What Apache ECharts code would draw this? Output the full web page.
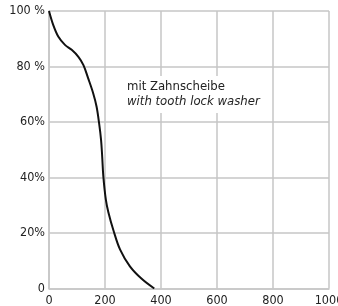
<!DOCTYPE html>
<html lang="de">
  <head>
    <meta charset="UTF-8" />
    <title>Zahnscheibe</title>
    <script src="https://cdn.jsdelivr.net/npm/echarts@6/dist/echarts.min.js"></script>
    <style>
      html, body { margin: 0; padding: 0; background: #fff; }
      #box { width: 338px; height: 306px; }
    </style>
  </head>
  <body>
    <div id="box"></div>
    <script>
      // curve (x, percent)
      const xs = [0, 15, 33, 57, 81, 105, 123, 140, 158, 170, 179, 186, 190, 194, 203, 212, 230, 254, 289, 331, 376];
      const ys = [100, 95, 90.8, 87.8, 86, 83.5, 80.5, 75.7, 70.3, 65.5, 59.5, 53.5, 47.5, 40.5, 32, 27.5, 21, 14, 8, 3.5, 0];
      const yLabels = { 0: "0", 20: "20%", 40: "40%", 60: "60%", 80: "80 %", 100: "100 %" };
      const noteDe = "mit Zahnscheibe";
      const noteEn = "with tooth lock washer";

      const font = "'Liberation Sans Narrow', 'DejaVu Sans Condensed', sans-serif";
      const gridColor = "#c6c6c6";

      var myChart = echarts.init(document.getElementById("box"));
      var option = {
        animation: false,
        grid: { left: 49, top: 11, right: 9, bottom: 17.5, containLabel: false, outerBoundsMode: "none" },
        xAxis: {
          type: "value",
          min: 0,
          max: 1000,
          interval: 200,
          axisLine: { show: true, lineStyle: { color: gridColor, width: 1.5 } },
          axisTick: { show: false },
          splitLine: { show: true, lineStyle: { color: gridColor, width: 1.5 } },
          axisLabel: { color: "#222", fontFamily: font, fontSize: 12.5, margin: 6, formatter: (v) => String(v) },
        },
        yAxis: {
          type: "value",
          min: 0,
          max: 100,
          interval: 20,
          axisLine: { show: true, lineStyle: { color: gridColor, width: 1.5 } },
          axisTick: { show: false },
          splitLine: { show: true, lineStyle: { color: gridColor, width: 1.5 } },
          axisLabel: {
            color: "#222",
            fontFamily: font,
            fontSize: 12.5,
            margin: 4,
            formatter: (v) => yLabels[v],
          },
        },
        graphic: [
          { type: "rect", left: 123, top: 76, shape: { width: 140, height: 37 }, style: { fill: "#fff" }, z: 10 },
          { type: "text", left: 127, top: 80, z: 11, style: { text: noteDe, font: "13px " + font, fill: "#222" } },
          { type: "text", left: 127, top: 95, z: 11, style: { text: noteEn, font: "italic 13px " + font, fill: "#222" } },
        ],
        series: [
          {
            type: "line",
            data: xs.map((x, i) => [x, ys[i]]),
            smooth: 0.35,
            showSymbol: false,
            lineStyle: { color: "#111", width: 2 },
            z: 5,
          },
        ],
      };
      myChart.setOption(option);
    </script>
  </body>
</html>
